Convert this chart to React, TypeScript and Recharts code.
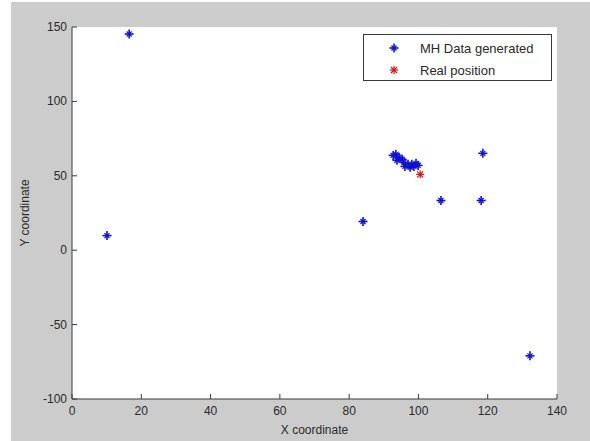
import React from 'react';
import { ScatterChart, Scatter, XAxis, YAxis, CartesianGrid, Legend } from 'recharts';

const xTicks = [0, 20, 40, 60, 80, 100, 120, 140];
const yTicks = [-100, -50, 0, 50, 100, 150];

const mhX = [16.5, 10.1, 84.0, 106.5, 118.1, 118.6, 132.2, 92.7, 93.5, 94.4, 95.3, 93.8, 95.8, 97.0, 98.1, 99.3, 96.1, 97.6, 98.7, 99.9];
const mhY = [145.3, 9.8, 19.3, 33.4, 33.4, 65.1, -71.0, 63.7, 64.4, 62.4, 61.1, 60.4, 59.0, 57.7, 57.7, 58.4, 56.3, 55.7, 56.3, 57.0];

const realX = [100.5];
const realY = [51.0];

const mhData = mhX.map((x, i) => ({ x, y: mhY[i] }));
const realData = realX.map((x, i) => ({ x, y: realY[i] }));

const BLUE = '#1010d0';
const RED = '#d01010';
const AXIS = '#3a3a3a';
const TEXT = '#2a2a2a';
const FONT = '"Liberation Sans", Arial, sans-serif';

const BlueStar = (props: any) => {
  const { cx, cy } = props;
  if (cx == null || cy == null) return null;
  return (
    <g stroke={BLUE} strokeWidth={1.6}>
      <line x1={cx - 4.5} y1={cy} x2={cx + 4.5} y2={cy} />
      <line x1={cx} y1={cy - 4.5} x2={cx} y2={cy + 4.5} />
      <line x1={cx - 2.5} y1={cy - 2.5} x2={cx + 2.5} y2={cy + 2.5} strokeWidth={1.2} />
      <line x1={cx - 2.5} y1={cy + 2.5} x2={cx + 2.5} y2={cy - 2.5} strokeWidth={1.2} />
    </g>
  );
};

const RedStar = (props: any) => {
  const { cx, cy } = props;
  if (cx == null || cy == null) return null;
  return (
    <g stroke={RED} strokeWidth={1.2}>
      <line x1={cx - 4} y1={cy} x2={cx + 4} y2={cy} />
      <line x1={cx} y1={cy - 4} x2={cx} y2={cy + 4} />
      <line x1={cx - 3} y1={cy - 3} x2={cx + 3} y2={cy + 3} />
      <line x1={cx - 3} y1={cy + 3} x2={cx + 3} y2={cy - 3} />
    </g>
  );
};

const BottomTick = (props: any) => {
  const { x, y, payload } = props;
  return (
    <g>
      <line x1={x} y1={y} x2={x} y2={y - 5} stroke={AXIS} />
      <text x={x} y={y + 16} textAnchor="middle" fill={TEXT} fontSize={12} fontFamily={FONT}>
        {payload.value}
      </text>
    </g>
  );
};

const LeftTick = (props: any) => {
  const { x, y, payload } = props;
  return (
    <g>
      <line x1={x} y1={y} x2={x + 5} y2={y} stroke={AXIS} />
      <text x={x - 5} y={y + 4} textAnchor="end" fill={TEXT} fontSize={12} fontFamily={FONT}>
        {payload.value}
      </text>
    </g>
  );
};

const TopTick = (props: any) => {
  const { x, y } = props;
  return <line x1={x} y1={y} x2={x} y2={y + 5} stroke={AXIS} />;
};

const RightTick = (props: any) => {
  const { x, y } = props;
  return <line x1={x} y1={y} x2={x - 5} y2={y} stroke={AXIS} />;
};

const XLabel = (props: any) => {
  const vb = props.viewBox;
  return (
    <text x={vb.x + vb.width / 2} y={vb.y + 35} textAnchor="middle" fill={TEXT} fontSize={12} fontFamily={FONT}>
      X coordinate
    </text>
  );
};

const YLabel = (props: any) => {
  const vb = props.viewBox;
  const cx = vb.x + 29;
  const cy = vb.y + vb.height / 2;
  return (
    <text x={cx} y={cy} textAnchor="middle" fill={TEXT} fontSize={12} fontFamily={FONT} transform={`rotate(-90 ${cx} ${cy})`}>
      Y coordinate
    </text>
  );
};

const LegendBox = (props: any) => {
  const payload = props.payload || [];
  return (
    <div
      style={{
        width: 187,
        height: 45,
        border: `1px solid ${AXIS}`,
        background: '#fff',
        fontFamily: FONT,
        fontSize: 13,
        color: TEXT,
        boxSizing: 'content-box',
        position: 'relative',
      }}
    >
      {payload.map((p: any, i: number) => (
        <div key={i} style={{ position: 'absolute', left: 0, top: 4 + i * 22, height: 18, display: 'flex', alignItems: 'center' }}>
          <svg width={56} height={18}>
            {i === 0 ? <BlueStar cx={30} cy={9} /> : <RedStar cx={30} cy={9} />}
          </svg>
          <span>{p.value}</span>
        </div>
      ))}
    </div>
  );
};

export default function App() {
  return (
    <div style={{ position: 'absolute', left: 0, top: 0, width: 590, height: 441, background: '#fff' }}>
      <div style={{ position: 'absolute', left: 11, top: 2, width: 579, height: 439, background: '#cccccc' }} />
      <div style={{ position: 'absolute', left: 0, top: 0 }}>
        <ScatterChart width={590} height={441} margin={{ top: 27, right: 33, bottom: 0, left: 0 }}>
          <CartesianGrid fill="#ffffff" stroke="none" xAxisId={0} yAxisId={0} />
          <XAxis
            xAxisId={0}
            type="number"
            dataKey="x"
            domain={[0, 140]}
            ticks={xTicks}
            allowDataOverflow
            height={42}
            tickSize={0}
            tickMargin={0}
            tickLine={false}
            axisLine={{ stroke: AXIS }}
            tick={<BottomTick />}
            interval={0}
            label={<XLabel />}
          />
          <XAxis
            xAxisId="top"
            orientation="top"
            type="number"
            domain={[0, 140]}
            ticks={xTicks}
            allowDataOverflow
            height={0}
            tickSize={0}
            tickMargin={0}
            tickLine={false}
            axisLine={{ stroke: AXIS }}
            tick={<TopTick />}
            interval={0}
          />
          <YAxis
            yAxisId={0}
            type="number"
            dataKey="y"
            domain={[-100, 150]}
            ticks={yTicks}
            allowDataOverflow
            width={72}
            tickSize={0}
            tickMargin={0}
            tickLine={false}
            axisLine={{ stroke: AXIS }}
            tick={<LeftTick />}
            interval={0}
            label={<YLabel />}
          />
          <YAxis
            yAxisId="right"
            orientation="right"
            type="number"
            domain={[-100, 150]}
            ticks={yTicks}
            allowDataOverflow
            width={0}
            tickSize={0}
            tickMargin={0}
            tickLine={false}
            axisLine={{ stroke: AXIS }}
            tick={<RightTick />}
            interval={0}
          />
          <Legend
            layout="vertical"
            align="center"
            verticalAlign="middle"
            content={<LegendBox />}
            wrapperStyle={{ position: 'absolute', left: 363, top: 34, width: 189, height: 47 }}
          />
          <Scatter name="MH Data generated" data={mhData} fill={BLUE} shape={<BlueStar />} isAnimationActive={false} legendType="plus" />
          <Scatter name="Real position" data={realData} fill={RED} shape={<RedStar />} isAnimationActive={false} legendType="star" />
        </ScatterChart>
      </div>
    </div>
  );
}
